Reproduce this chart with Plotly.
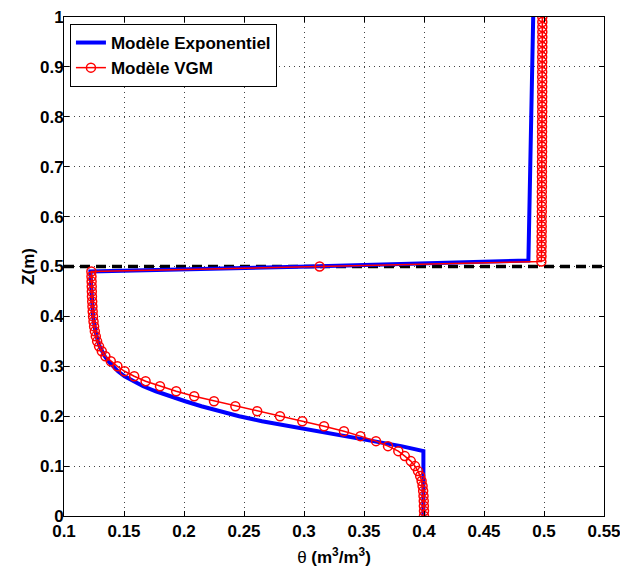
import plotly.graph_objects as go

# ---- data ----
z_vgm = [0.00, 0.01, 0.02, 0.03, 0.04, 0.05, 0.06, 0.07, 0.08, 0.09,
         0.10, 0.11, 0.12, 0.13, 0.14, 0.15, 0.16, 0.17, 0.18, 0.19,
         0.20, 0.21, 0.22, 0.23, 0.24, 0.25, 0.26, 0.27, 0.28, 0.29,
         0.30, 0.31, 0.32, 0.33, 0.34, 0.35, 0.36, 0.37, 0.38, 0.39,
         0.40, 0.41, 0.42, 0.43, 0.44, 0.45, 0.46, 0.47, 0.48, 0.49,
         0.50,
         0.51, 0.52, 0.53, 0.54, 0.55, 0.56, 0.57, 0.58, 0.59, 0.60,
         0.61, 0.62, 0.63, 0.64, 0.65, 0.66, 0.67, 0.68, 0.69, 0.70,
         0.71, 0.72, 0.73, 0.74, 0.75, 0.76, 0.77, 0.78, 0.79, 0.80,
         0.81, 0.82, 0.83, 0.84, 0.85, 0.86, 0.87, 0.88, 0.89, 0.90,
         0.91, 0.92, 0.93, 0.94, 0.95, 0.96, 0.97, 0.98, 0.99, 1.00]
theta_vgm = [0.4000, 0.4000, 0.3999, 0.3998, 0.3996, 0.3993, 0.3988, 0.3980, 0.3968, 0.3950,
             0.3925, 0.3890, 0.3840, 0.3786, 0.3700, 0.3600, 0.3470, 0.3333, 0.3167, 0.2986,
             0.2800, 0.2610, 0.2428, 0.2250, 0.2085, 0.1935, 0.1800, 0.1680, 0.1585, 0.1505,
             0.1445, 0.1390, 0.1345, 0.1315, 0.1292, 0.1276, 0.1265, 0.1257, 0.1251, 0.1246,
             0.1242, 0.1239, 0.1237, 0.1235, 0.1233, 0.1232, 0.1231, 0.1230, 0.1229, 0.1228,
             0.3130,
             0.4978, 0.4979, 0.4979, 0.4980, 0.4980, 0.4980, 0.4981, 0.4981, 0.4981, 0.4981,
             0.4982, 0.4982, 0.4982, 0.4982, 0.4982, 0.4983, 0.4983, 0.4983, 0.4983, 0.4983,
             0.4983, 0.4984, 0.4984, 0.4984, 0.4984, 0.4984, 0.4984, 0.4984, 0.4984, 0.4985,
             0.4985, 0.4985, 0.4985, 0.4985, 0.4985, 0.4985, 0.4985, 0.4985, 0.4985, 0.4985,
             0.4985, 0.4985, 0.4986, 0.4986, 0.4986, 0.4986, 0.4986, 0.4986, 0.4986, 0.4986]

z_exp = [0.00, 0.13, 0.14, 0.15, 0.16, 0.17, 0.18, 0.19, 0.20, 0.21, 0.22, 0.23, 0.24,
         0.25, 0.26, 0.27, 0.28, 0.29, 0.30, 0.31, 0.32, 0.33, 0.34, 0.35, 0.37, 0.40,
         0.45, 0.49, 0.50, 0.512, 1.00]
theta_exp = [0.3995, 0.3995, 0.381, 0.358, 0.335, 0.311, 0.287, 0.265, 0.246, 0.229, 0.2145,
             0.201, 0.188, 0.1765, 0.1660, 0.1575, 0.1505, 0.1450, 0.1405, 0.1370, 0.1340, 0.1317,
             0.1298, 0.1283, 0.1262, 0.1242, 0.1226, 0.1220, 0.305, 0.487, 0.491]

interface_z = 0.5
x_range = [0.1, 0.55]
y_range = [0, 1]

FONT = "Liberation Sans, Arial, sans-serif"

fig = go.Figure()

fig.add_trace(go.Scatter(
    x=x_range, y=[interface_z, interface_z], mode="lines",
    line=dict(color="black", width=3.5, dash="10px,6px"),
    showlegend=False, hoverinfo="skip"))

fig.add_trace(go.Scatter(
    x=theta_exp, y=z_exp, mode="lines", name="Modèle Exponentiel",
    line=dict(color="#0000ff", width=4)))

fig.add_trace(go.Scatter(
    x=theta_vgm, y=z_vgm, mode="lines+markers", name="Modèle VGM",
    line=dict(color="#ff0000", width=1.5),
    marker=dict(symbol="circle-open", size=9, color="#ff0000",
                line=dict(color="#ff0000", width=1.5))))

axis_common = dict(
    showgrid=True, gridcolor="#444444", griddash="1px,4px", gridwidth=1,
    showline=True, linecolor="black", linewidth=1, mirror="ticks",
    ticks="inside", ticklen=5, tickcolor="black", zeroline=False,
    automargin=False, ticklabeloverflow="allow",
    tickfont=dict(family=FONT, size=17, color="black", weight="bold"),
)

fig.update_xaxes(range=x_range, tick0=0.1, dtick=0.05, **axis_common,
                 title=dict(text="<span style='font-weight:normal'>θ</span> (m<sup>3</sup>/m<sup>3</sup>)",
                            font=dict(family=FONT, size=17, color="black", weight="bold"),
                            standoff=10))
fig.update_yaxes(range=y_range, tick0=0, dtick=0.1, **axis_common,
                 title=dict(text="Z(m)",
                            font=dict(family=FONT, size=17, color="black", weight="bold"),
                            standoff=1))
try:
    fig.update_yaxes(ticklabelstandoff=-4)
except Exception:
    pass

fig.update_layout(
    width=620, height=567,
    margin=dict(l=64, r=16, t=17, b=51),
    plot_bgcolor="white", paper_bgcolor="white",
    font=dict(family=FONT, color="black"),
    legend=dict(x=0.011, y=0.986, xanchor="left", yanchor="top",
                bgcolor="white", bordercolor="black", borderwidth=1,
                font=dict(family=FONT, size=17, color="black", weight="bold"),
                tracegroupgap=0),
)

fig.write_html("out.html",
               config={"displayModeBar": False},
               post_script="document.body.style.margin='0px';"
                           "document.body.style.overflow='hidden';")
